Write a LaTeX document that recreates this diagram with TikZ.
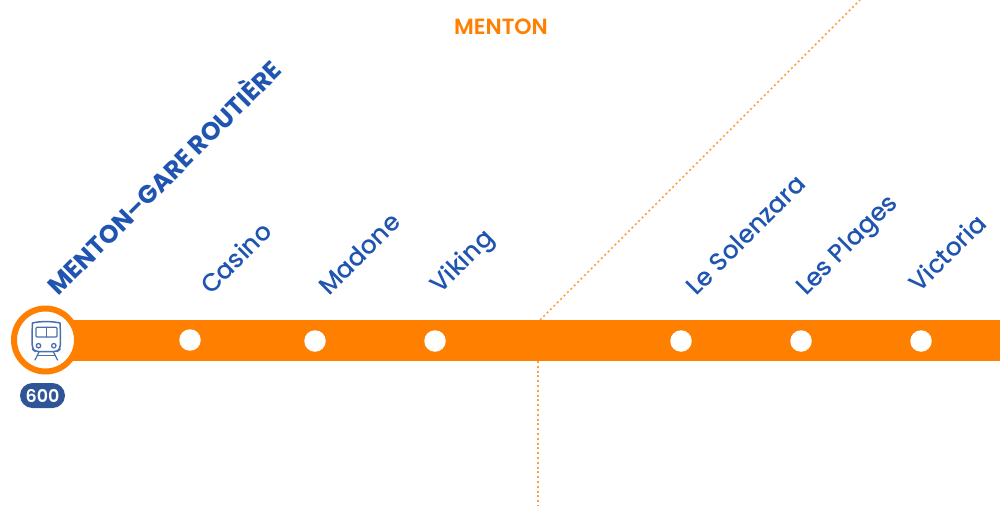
\documentclass[tikz,border=0pt]{standalone}
\usepackage{fontspec}
\setmainfont{Poppins Medium}[BoldFont=Poppins Bold]
\newfontfamily\psemi{Poppins SemiBold}
\newfontfamily\pbold{Poppins Bold}
\definecolor{lineor}{HTML}{FF7F00}
\definecolor{lblue}{HTML}{1F55B0}
\definecolor{pillb}{HTML}{2F5597}
\definecolor{iconb}{HTML}{4A6FB0}
\tikzset{
  stoplabel/.style={font=\fontsize{25}{25}\selectfont,text=lblue,rotate=45,anchor=base west,inner sep=0pt},
  stopdot/.style={circle,fill=white,draw=none,minimum size=21.5pt,inner sep=0pt},
  zoneline/.style={draw=lineor!75,line width=1.5pt,dash pattern=on 2pt off 2.8pt},
  icon/.style={draw=iconb,line width=1.5pt,line cap=round,line join=round}
}
\begin{document}
\begin{tikzpicture}[x=1pt,y=-1pt]
\useasboundingbox (0,0) rectangle (1000,506);
\fill[white] (0,0) rectangle (1000,506);
% zone separators
\coordinate (ztop) at (860,0);
\coordinate (zmid) at (540,320);
\coordinate (zlow) at (538,361);
\coordinate (zbot) at (538,506);
\draw[zoneline] (zmid) -- (ztop);
\draw[zoneline] (zlow) -- (zbot);
% band
\coordinate (bandl) at (45,340.5);
\coordinate (bandr) at (1000,340.5);
\draw[lineor,line width=41pt] (bandl) -- (bandr);
% terminus
\node[circle,fill=white,draw=lineor,line width=6pt,outer sep=0pt,minimum size=63pt,inner sep=0pt] (term) at (45.5,340) {};
\draw[icon,rounded corners=4pt] (32.2,327) .. controls (32.5,323) and (38,321.7) .. (46,321.7) .. controls (54,321.7) and (60,323) .. (60.3,327) -- (60.3,349) -- (57,351.7) -- (35.5,351.7) -- (32.2,349) -- cycle;
\draw[icon,line width=1.3pt,rounded corners=1pt] (36,327.3) rectangle (57,337);
\draw[icon,line width=1.3pt] (46.3,327.3) -- (46.3,337);
\draw[icon,line width=1.3pt] (38.5,345.7) circle (2.2pt);
\draw[icon,line width=1.3pt] (53.8,345.7) circle (2.2pt);
\draw[icon,line width=1.3pt] (39,352) -- (35,360);
\draw[icon,line width=1.3pt] (53.5,352) -- (57.5,360);
\draw[icon,line width=1.3pt] (37.5,355.5) -- (55,355.5);
% badge
\node[rounded corners=12.5pt,fill=pillb,minimum width=45pt,minimum height=25pt,inner sep=0pt,text=white,font=\psemi\fontsize{17.5}{18}\selectfont] (badge) at (42.5,395.5) {600};
% stops
\node[stopdot] (s1) at (190,340) {};
\node[stopdot] (s2) at (315,341) {};
\node[stopdot] (s3) at (435,341) {};
\node[stopdot] (s4) at (681,341) {};
\node[stopdot] (s5) at (801,341) {};
\node[stopdot] (s6) at (921,341) {};
% labels
\node[stoplabel,font=\pbold\fontsize{25}{25}\selectfont] (l0) at (58.5,297) {MENTON–GARE ROUTIÈRE};
\node[stoplabel] (l1) at (211,296) {Casino};
\node[stoplabel] (l2) at (329,297) {Madone};
\node[stoplabel] (l3) at (440,295) {Viking};
\node[stoplabel] (l4) at (696,297) {Le Solenzara};
\node[stoplabel] (l5) at (806,297) {Les Plages};
\node[stoplabel] (l6) at (919,294) {Victoria};
\node[font=\psemi\fontsize{22}{22}\selectfont,text=lineor,inner sep=0pt] (title) at (501,27) {MENTON};
\end{tikzpicture}
\end{document}
